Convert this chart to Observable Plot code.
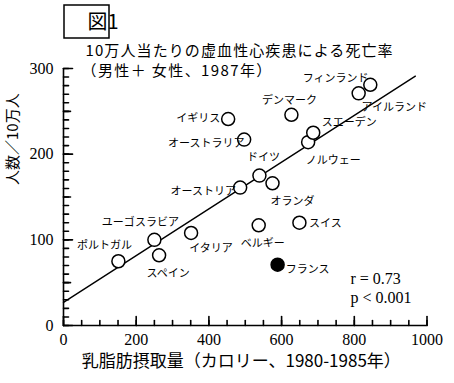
<!DOCTYPE html>
<html><head><meta charset="utf-8">
<script src="https://cdn.jsdelivr.net/npm/d3@7"></script>
<script src="https://cdn.jsdelivr.net/npm/@observablehq/plot@0.6"></script>
<style>
body{margin:0;background:#fff;}
#chart{position:relative;width:454px;height:383px;}
</style>
</head><body><div id="chart"></div>
<script>
// ---- data ----
const countries = ["ポルトガル","ユーゴスラビア","スペイン","イタリア","イギリス","オーストラリア","オーストリア","ドイツ","オランダ","ベルギー","スイス","フランス","デンマーク","ノルウェー","スエーデン","フィンランド","アイルランド"];
const dairyFat = [151, 250, 263, 351, 453, 497, 486, 539, 575, 537, 649, 589, 627, 673, 687, 812, 844];
const deaths   = [ 75, 100,  82, 108, 241, 217, 161, 175, 166, 117, 120,  71, 246, 214, 225, 271, 281];
const highlighted = ["フランス"];
const fitX = [0, 968];
const fitY = [27, 291];
const xTicks = [0, 200, 400, 600, 800, 1000];
const yTicks = [0, 100, 200, 300];
const xMinor = d3.range(0, 1001, 50);
const yMinor = d3.range(0, 301, 10);
const yMid = d3.range(50, 301, 100);
const figLabel = "図1";
const title = "10万人当たりの虚血性心疾患による死亡率";
const subtitle = "（男性＋ 女性、1987年）";
const xLabel = "乳脂肪摂取量（カロリー、1980-1985年）";
const yLabel = "人数／10万人";
const stats = ["r = 0.73", "p < 0.001"];

// ---- layout (label offsets in px) ----
const labelOffset = {
  "ポルトガル":[-14,-16], "ユーゴスラビア":[-14,-17], "スペイン":[9,18], "イタリア":[20,15],
  "イギリス":[-30,-1], "オーストラリア":[-38,4], "オーストリア":[-37,4], "ドイツ":[4,-18],
  "オランダ":[20,18], "ベルギー":[4,18], "スイス":[26,1], "フランス":[30,5],
  "デンマーク":[-2,-14], "ノルウェー":[25,18], "スエーデン":[36,-10],
  "フィンランド":[-23,-15], "アイルランド":[24,23]
};

const rows = countries.map((name, i) => ({name, x: dairyFat[i], y: deaths[i], filled: highlighted.includes(name)}));
const fit = fitX.map((x, i) => ({x, y: fitY[i]}));

const jp = "'Noto Sans CJK JP', sans-serif";
const serif = "'Liberation Serif', 'DejaVu Serif', serif";

const labelMarks = rows.map(d => Plot.text([d], {
  x: "x", y: "y", text: "name", dx: labelOffset[d.name][0], dy: labelOffset[d.name][1],
  fontFamily: jp, fontSize: 11, fill: "black"
}));

// inward tick marks: a vector of fixed pixel length anchored on each axis value
const tickShape = {draw(context, l) { context.moveTo(0, 0); context.lineTo(0, -l); }};
const ticksX = (vals, len) => Plot.vector(vals, {x: d => d, y: 0, length: len, rotate: 0, anchor: "start", shape: tickShape, stroke: "black", strokeWidth: 1.6});
const ticksY = (vals, len) => Plot.vector(vals, {x: 0, y: d => d, length: len, rotate: 90, anchor: "start", shape: tickShape, stroke: "black", strokeWidth: 1.6});

const plot = Plot.plot({
  width: 454, height: 383,
  marginLeft: 63, marginRight: 27.5, marginTop: 68, marginBottom: 58,
  style: {background: "white", color: "black", overflow: "visible"},
  x: {domain: [0, 1000], axis: null},
  y: {domain: [0, 300], axis: null},
  marks: [
    ticksX(xMinor, 5),
    ticksX(xTicks, 9),
    ticksY(yMinor, 5),
    ticksY(yMid, 7),
    ticksY(yTicks, 9),
    Plot.axisX(xTicks, {tickSize: 0, tickPadding: 8, tickFormat: d => String(d), label: null, fontFamily: serif, fontSize: 16}),
    Plot.axisY(yTicks, {tickSize: 0, tickPadding: 10, tickFormat: d => String(d), label: null, fontFamily: serif, fontSize: 16}),
    Plot.ruleX([0], {strokeWidth: 1.6}),
    Plot.ruleY([0], {strokeWidth: 1.6}),
    Plot.line(fit, {x: "x", y: "y", stroke: "black", strokeWidth: 1.4}),
    Plot.dot(rows.filter(d => !d.filled), {x: "x", y: "y", r: 6.5, stroke: "black", strokeWidth: 1.5, fill: "white"}),
    Plot.dot(rows.filter(d => d.filled), {x: "x", y: "y", r: 6.5, stroke: "black", strokeWidth: 1.5, fill: "black"}),
    ...labelMarks,
    Plot.text([stats[0]], {frameAnchor: "top-left", text: d => d, dx: 287, dy: 210, textAnchor: "start", lineAnchor: "middle", fontFamily: serif, fontSize: 16}),
    Plot.text([stats[1]], {frameAnchor: "top-left", text: d => d, dx: 287, dy: 229, textAnchor: "start", lineAnchor: "middle", fontFamily: serif, fontSize: 16}),
    Plot.text([title], {frameAnchor: "top-left", text: d => d, dx: 22, dy: -17, textAnchor: "start", lineAnchor: "middle", fontFamily: jp, fontSize: 15}),
    Plot.text([subtitle], {frameAnchor: "top-left", text: d => d, dx: 18, dy: 3, textAnchor: "start", lineAnchor: "middle", fontFamily: jp, fontSize: 15}),
    Plot.text([xLabel], {frameAnchor: "bottom", text: d => d, dx: -4, dy: 36, lineAnchor: "middle", fontFamily: jp, fontSize: 17}),
    Plot.text([yLabel], {frameAnchor: "left", text: d => d, dx: -50, dy: -12, rotate: -90, lineAnchor: "middle", fontFamily: jp, fontSize: 15}),
    Plot.text([figLabel], {frameAnchor: "top-left", text: d => d, dx: 24, dy: -46, lineAnchor: "middle", fontFamily: jp, fontSize: 20})
  ]
});

const svg = d3.select(plot);
svg.selectAll("text").filter(function() { return this.textContent === title; }).style("letter-spacing", "1.1px");
svg.selectAll("text").filter(function() { return this.textContent === subtitle; }).style("letter-spacing", "1.4px");
// box around the figure number
svg.insert("rect", ":first-child").attr("x", 64).attr("y", 5).attr("width", 45).attr("height", 33)
  .attr("fill", "none").attr("stroke", "black").attr("stroke-width", 1.5);
svg.insert("rect", ":first-child").attr("width", 454).attr("height", 383).attr("fill", "white");
document.getElementById("chart").appendChild(plot);
</script>
</body></html>
